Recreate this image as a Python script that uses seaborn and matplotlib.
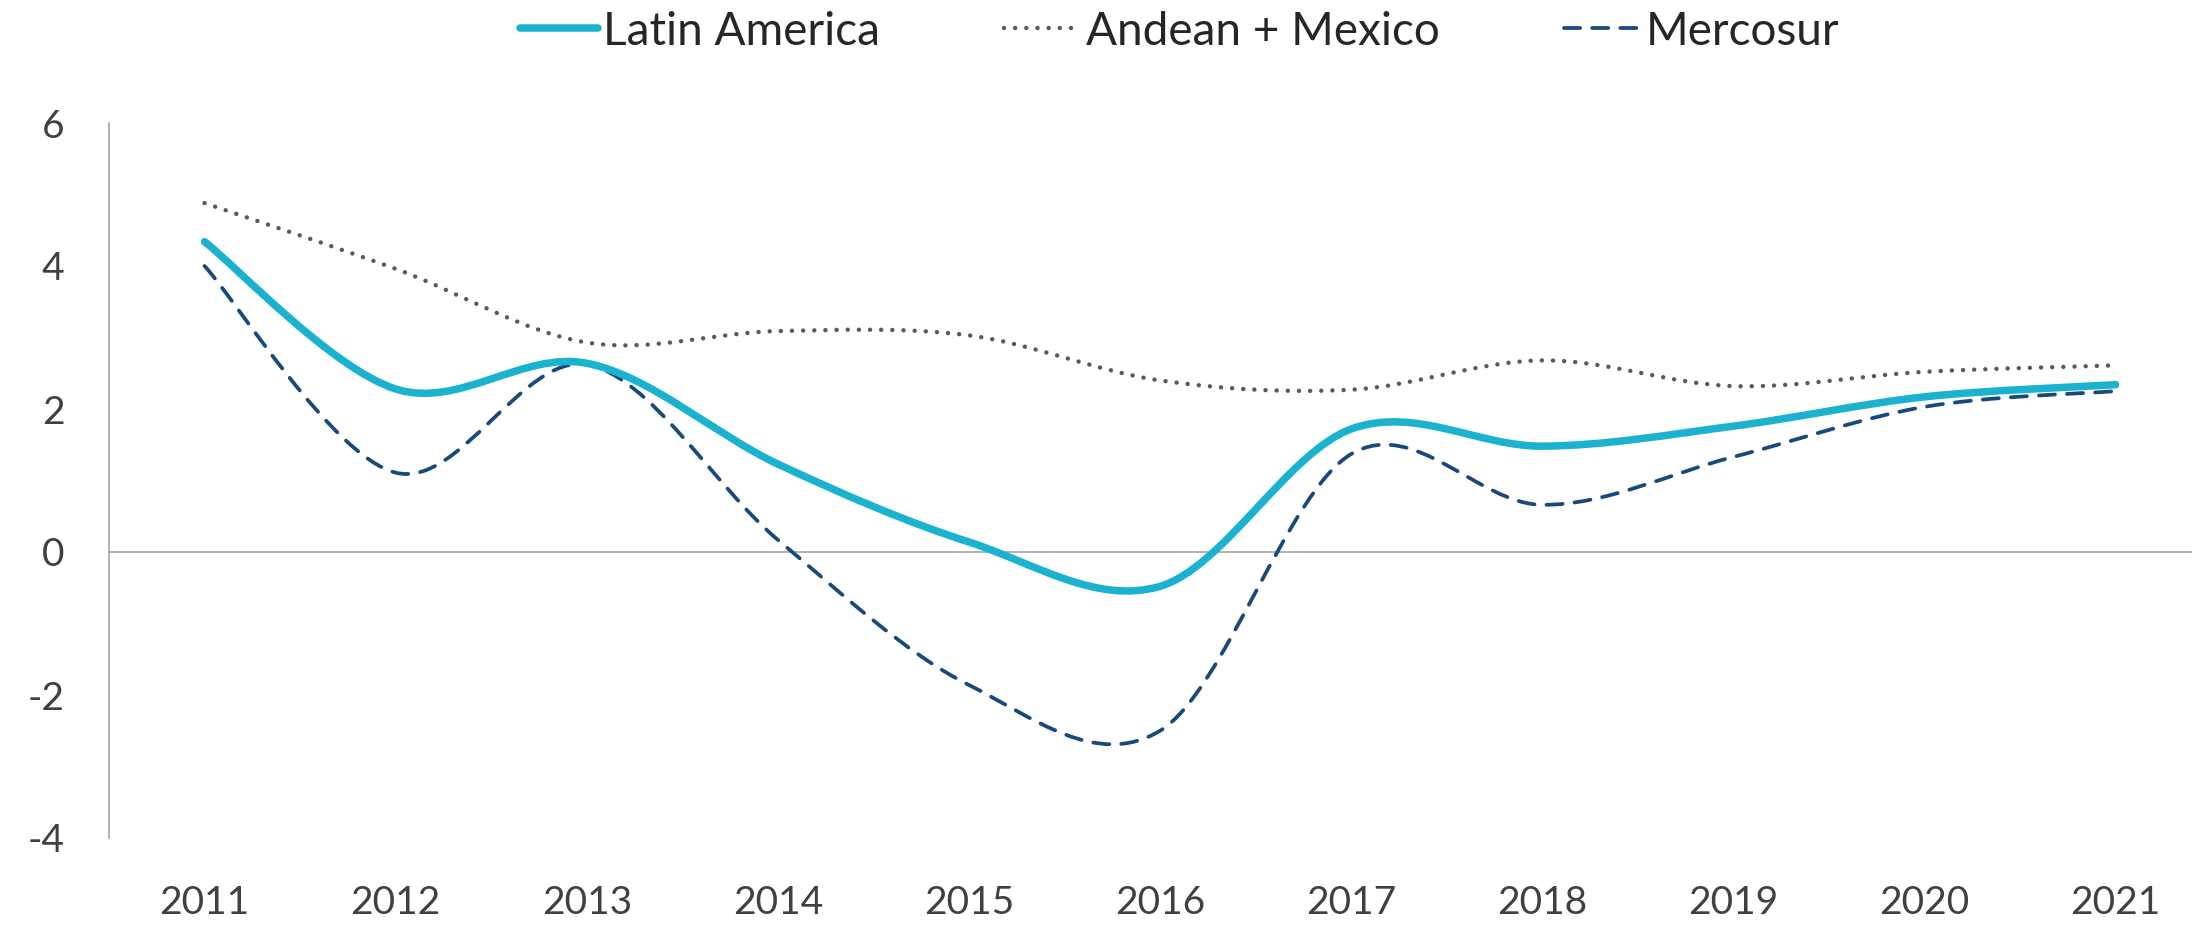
import numpy as np
import matplotlib.pyplot as plt
import seaborn as sns
from matplotlib.path import Path
from matplotlib.patches import PathPatch
from matplotlib.lines import Line2D

# valores
years = ['2011', '2012', '2013', '2014', '2015', '2016', '2017', '2018', '2019', '2020', '2021']
latin_america = [4.34, 2.28, 2.64, 1.23, 0.14, -0.48, 1.72, 1.48, 1.76, 2.17, 2.34]
andean_mexico = [4.88, 3.96, 2.93, 3.09, 3.03, 2.40, 2.27, 2.68, 2.32, 2.52, 2.61]
mercosur = [4.00, 1.11, 2.62, 0.17, -1.86, -2.50, 1.37, 0.66, 1.33, 2.03, 2.25]

sns.set_style('white')
plt.rcParams['font.family'] = ['Lato', 'DejaVu Sans']
plt.rcParams['axes.unicode_minus'] = False


def smooth_path(y):
    # curva suavizada estilo Excel (bezier passando pelos pontos)
    pts = np.column_stack([np.arange(len(y)), np.asarray(y, float)])
    ext = np.vstack([pts[0], pts, pts[-1]])
    verts = [pts[0]]
    codes = [Path.MOVETO]
    for i in range(len(pts) - 1):
        p0, p1, p2, p3 = ext[i], ext[i + 1], ext[i + 2], ext[i + 3]
        verts += [p1 + (p2 - p0) / 6, p2 - (p3 - p1) / 6, p2]
        codes += [Path.CURVE4] * 3
    return Path(verts, codes)


fig = plt.figure(figsize=(21.92, 9.27), dpi=100)
ax = fig.add_axes([109 / 2192, 89 / 927, (2192 - 109) / 2192, 715 / 927])

series = [
    ('Latin America', latin_america, dict(color='#1BB2CF', lw=5.4, ls='-')),
    ('Andean + Mexico', andean_mexico, dict(color='#595959', lw=3.2, ls=(0, (0.01, 2.5)))),
    ('Mercosur', mercosur, dict(color='#17497A', lw=2.7, ls=(0, (4.3, 3.2)))),
]

ax.axhline(0, color='#A6A6A6', lw=1.2, zorder=1)

handles = []
for name, vals, st in reversed(series):
    patch = PathPatch(smooth_path(vals), fill=False, edgecolor=st['color'],
                      lw=st['lw'], linestyle=st['ls'], capstyle='round', zorder=3)
    ax.add_patch(patch)
for name, vals, st in series:
    handles.append(Line2D([], [], color=st['color'], lw=st['lw'], ls=st['ls'],
                          dash_capstyle='round', solid_capstyle='round', label=name))

ax.set_xlim(-0.5, 10.4)
ax.set_ylim(-4, 6)
ax.set_xticks(range(len(years)), years)
ax.set_yticks([-4, -2, 0, 2, 4, 6])
ax.tick_params(axis='both', length=0, labelsize=28, colors='#404040')
ax.tick_params(axis='x', pad=34)
ax.tick_params(axis='y', pad=32)

sns.despine(ax=ax, bottom=True)
ax.spines['left'].set_color('#A6A6A6')
ax.spines['left'].set_linewidth(1.2)

fig.legend(handles=handles, loc='center', bbox_to_anchor=(1180 / 2192, 0.966),
           ncol=3, frameon=False, fontsize=33, handlelength=1.7,
           handletextpad=0.1, columnspacing=2.7)

fig.savefig('out.png', dpi=100)
